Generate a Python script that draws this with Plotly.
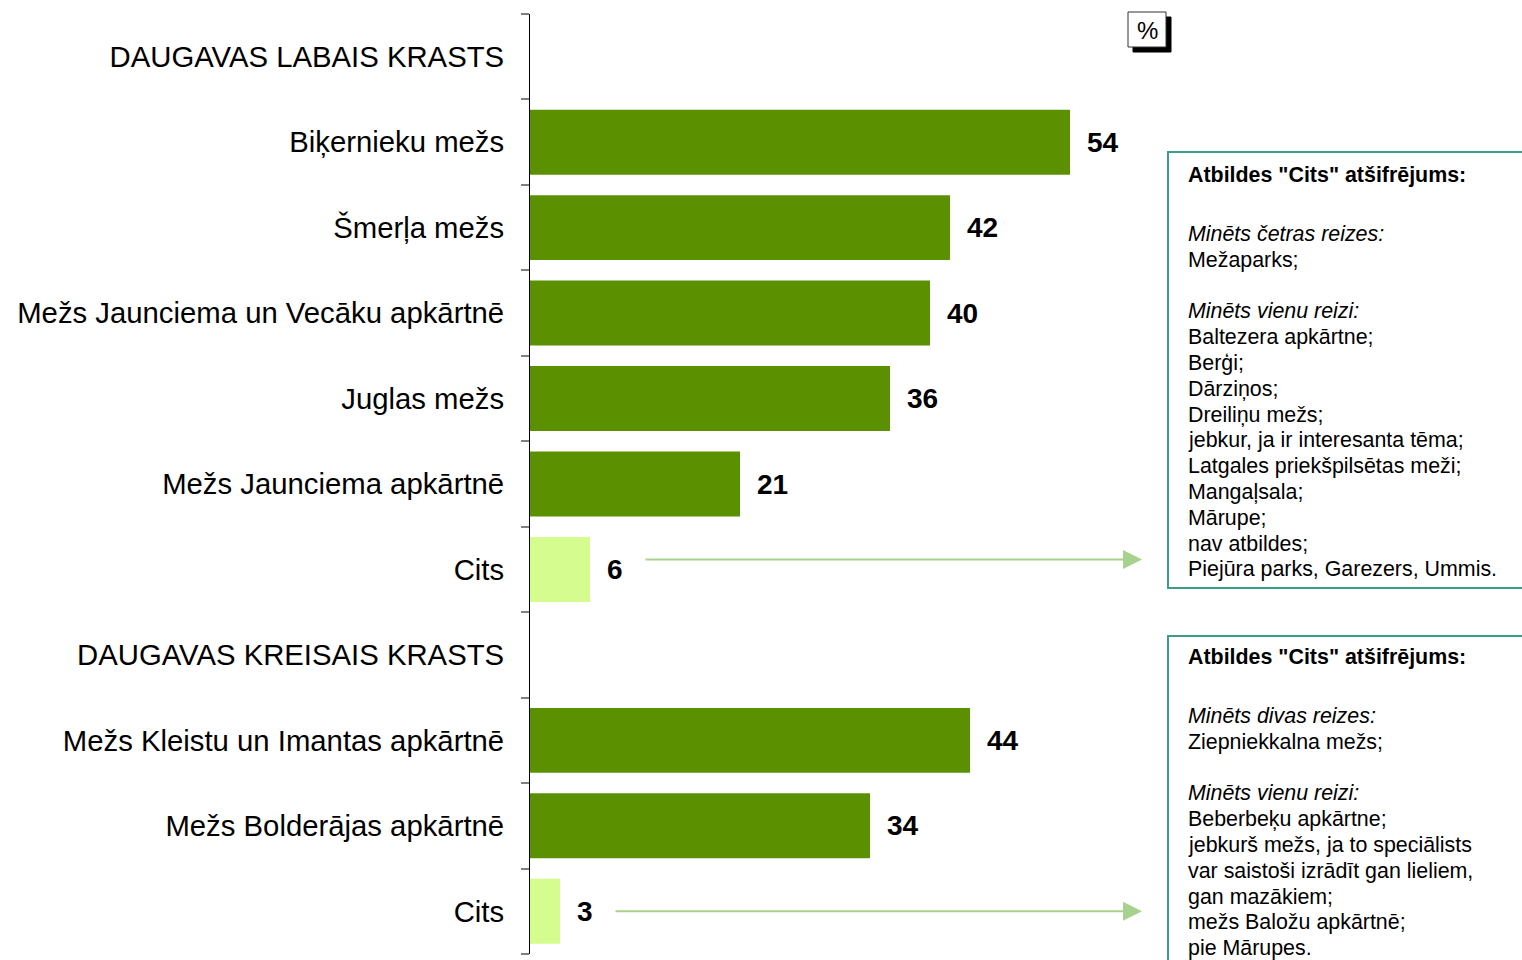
import plotly.graph_objects as go

# ---- data ----
categories = [
    "DAUGAVAS LABAIS KRASTS",
    "Biķernieku mežs",
    "Šmerļa mežs",
    "Mežs Jaunciema un Vecāku apkārtnē",
    "Juglas mežs",
    "Mežs Jaunciema apkārtnē",
    "Cits",
    "DAUGAVAS KREISAIS KRASTS",
    "Mežs Kleistu un Imantas apkārtnē",
    "Mežs Bolderājas apkārtnē",
    "Cits",
]
values = [None, 54, 42, 40, 36, 21, 6, None, 44, 34, 3]

box1_title = 'Atbildes "Cits" atšifrējums:'
box1_lines = [
    "<i>Minēts četras reizes:</i>",
    "Mežaparks;",
    "",
    "<i>Minēts vienu reizi:</i>",
    "Baltezera apkārtne;",
    "Berģi;",
    "Dārziņos;",
    "Dreiliņu mežs;",
    "jebkur, ja ir interesanta tēma;",
    "Latgales priekšpilsētas meži;",
    "Mangaļsala;",
    "Mārupe;",
    "nav atbildes;",
    "Piejūra parks, Garezers, Ummis.",
]
box2_title = 'Atbildes "Cits" atšifrējums:'
box2_lines = [
    "<i>Minēts divas reizes:</i>",
    "Ziepniekkalna mežs;",
    "",
    "<i>Minēts vienu reizi:</i>",
    "Beberbeķu apkārtne;",
    "jebkurš mežs, ja to speciālists",
    "var saistoši izrādīt gan lieliem,",
    "gan mazākiem;",
    "mežs Baložu apkārtnē;",
    "pie Mārupes.",
]

# ---- styling ----
DARK = "#5B9100"
LIGHT = "#D4FC8E"
ARROW = "#A9D18E"
BOXLINE = "#3A9E8E"
FONT = "Liberation Sans, Arial, sans-serif"

OFF = 0  # page body margin removed via post_script
W, H = 1522, 960
L = 530 - OFF
T = 14 - OFF
PLOT_BOTTOM = 954 - OFF
R = 0
B = H - PLOT_BOTTOM
PW, PH = W - L - R, PLOT_BOTTOM - T


def px2x(px):  # screenshot px -> paper x
    return (px - OFF - L) / PW


def py2y(py):  # screenshot py -> paper y
    return (PLOT_BOTTOM - (py - OFF)) / PH


idx = list(range(len(categories)))
colors = [LIGHT if c == "Cits" else DARK for c in categories]

fig = go.Figure()
fig.add_trace(go.Bar(
    x=values, y=idx, orientation="h",
    marker=dict(color=colors, line=dict(width=0)),
    width=0.76, hoverinfo="skip",
))

annotations = []
# value labels
for i, v in enumerate(values):
    if v is None:
        continue
    annotations.append(dict(
        x=v, y=i, xref="x", yref="y", text=f"<b>{v}</b>", showarrow=False,
        xanchor="left", yanchor="middle", xshift=15,
        font=dict(family=FONT, size=28, color="black"),
    ))

# arrows from "Cits" bars to explanation boxes
cits_idx = [i for i, c in enumerate(categories) if c == "Cits"]
arrow_yshift = [10, 0]
for k, i in enumerate(cits_idx):
    annotations.append(dict(
        x=(1142 - 530) / 10.0, y=i, xref="x", yref="y",
        ax=values[i] + 5.4, ay=0, axref="x", ayref="pixel",
        text="", showarrow=True, arrowhead=2, arrowsize=1.9, arrowwidth=2,
        arrowcolor=ARROW, yshift=arrow_yshift[k],
    ))

shapes = []


def add_box(title, lines, top, bottom, title_y, first_y, step=25.8):
    shapes.append(dict(type="rect", xref="paper", yref="paper",
                       x0=px2x(1168), x1=px2x(1560), y0=py2y(bottom), y1=py2y(top),
                       line=dict(color=BOXLINE, width=2), fillcolor="rgba(0,0,0,0)"))
    annotations.append(dict(
        x=px2x(1186), y=py2y(title_y), xref="paper", yref="paper",
        text=f"<b>{title}</b>", showarrow=False, xanchor="left", yanchor="middle",
        font=dict(family=FONT, size=21.4, color="black"),
    ))
    for j, ln in enumerate(lines):
        if not ln:
            continue
        annotations.append(dict(
            x=px2x(1186), y=py2y(first_y + j * step), xref="paper", yref="paper",
            text=ln, showarrow=False, xanchor="left", yanchor="middle",
            font=dict(family=FONT, size=21.4, color="black"),
        ))


add_box(box1_title, box1_lines, 152, 588, 175, 234)
add_box(box2_title, box2_lines, 636, 1000, 657, 716)

# "%" box with shadow
shapes.append(dict(type="rect", xref="paper", yref="paper",
                   x0=px2x(1133), x1=px2x(1171), y0=py2y(52), y1=py2y(17),
                   line=dict(color="black", width=1), fillcolor="black"))
shapes.append(dict(type="rect", xref="paper", yref="paper",
                   x0=px2x(1128), x1=px2x(1166), y0=py2y(47), y1=py2y(12),
                   line=dict(color="#333333", width=1), fillcolor="white"))
annotations.append(dict(
    x=px2x(1147), y=py2y(30), xref="paper", yref="paper", text="%",
    showarrow=False, xanchor="center", yanchor="middle",
    font=dict(family=FONT, size=24, color="black"),
))

n = len(categories)
fig.update_layout(
    width=W, height=H,
    margin=dict(l=L, r=R, t=T, b=B),
    paper_bgcolor="white", plot_bgcolor="white",
    showlegend=False,
    xaxis=dict(visible=False, range=[0, PW / 10.0], fixedrange=True),
    yaxis=dict(
        range=[n - 0.5, -0.5],
        tickmode="array", tickvals=idx, ticktext=categories,
        ticks="", showgrid=False, zeroline=False,
        showline=True, linecolor="black", linewidth=1,
        tickfont=dict(family=FONT, size=29.3, color="black"),
        ticklabelstandoff=19,
        minor=dict(tickmode="array", tickvals=[i - 0.5 for i in range(n + 1)],
                   ticks="outside", ticklen=8, tickcolor="#808080", tickwidth=1.5,
                   showgrid=False),
    ),
    annotations=annotations,
    shapes=shapes,
    font=dict(family=FONT),
)

fig.write_html(
    "out.html",
    config={"displayModeBar": False},
    post_script="document.body.style.margin='0';document.body.style.overflow='hidden';",
)
